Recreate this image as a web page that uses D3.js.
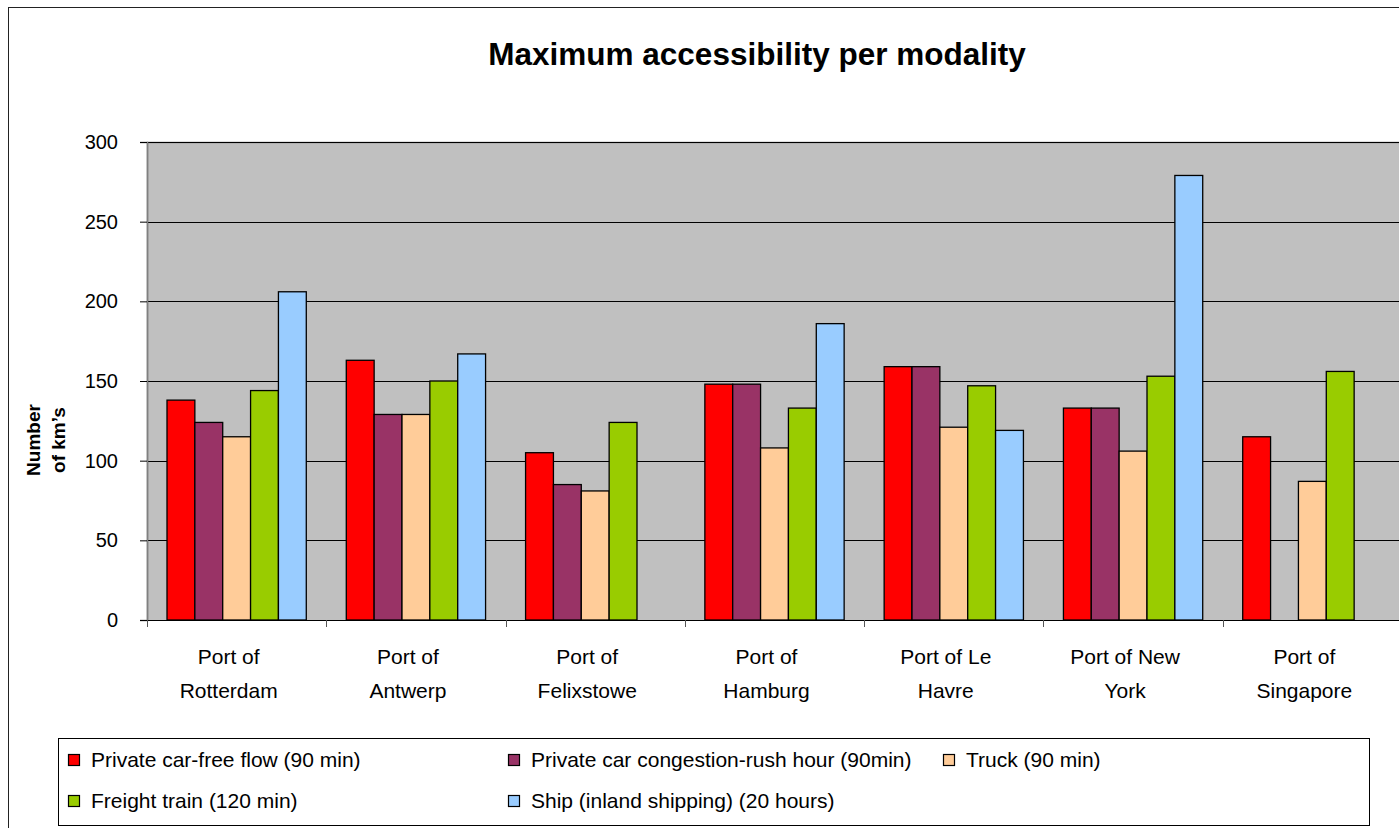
<!DOCTYPE html>
<html lang="en">
<head>
<meta charset="utf-8">
<title>Maximum accessibility per modality</title>
<script src="https://cdn.jsdelivr.net/npm/d3@7"></script>
<style>
  body { margin: 0; background: #fff; }
  text { font-family: "Liberation Sans", Arial, sans-serif; }
</style>
</head>
<body>
<script>
// categories and series
var ports = [["Port of", "Rotterdam"], ["Port of", "Antwerp"], ["Port of", "Felixstowe"],
             ["Port of", "Hamburg"], ["Port of Le", "Havre"], ["Port of New", "York"],
             ["Port of", "Singapore"]];
var seriesNames = ["Private car-free flow (90 min)", "Private car congestion-rush hour (90min)",
                   "Truck (90 min)", "Freight train (120 min)", "Ship (inland shipping) (20 hours)"];
var carFree    = [138, 163, 105, 148, 159, 133, 115];
var carRush    = [124, 129, 85, 148, 159, 133, null];
var truck      = [115, 129, 81, 108, 121, 106, 87];
var train      = [144, 150, 124, 133, 147, 153, 156];
var ship       = [206, 167, null, 186, 119, 279, null];
var yTicks     = [0, 50, 100, 150, 200, 250, 300];
var colors     = ["#FF0000", "#993366", "#FFCC99", "#99CC00", "#99CCFF"];

var seriesValues = [carFree, carRush, truck, train, ship];

var w = 1399, h = 828;
var plotLeft = 147, plotTop = 142, plotBottom = 620, plotRight = 1402;

var svg = d3.select("body").append("svg")
    .attr("width", w).attr("height", h);

// outer frame (runs off the right and bottom of the picture)
svg.append("rect")
   .attr("x", 8.5).attr("y", 7.5)
   .attr("width", 1420).attr("height", 840)
   .attr("fill", "none").attr("stroke", "#222").attr("stroke-width", 1);

// title
svg.append("text")
   .attr("x", 757).attr("y", 65)
   .attr("text-anchor", "middle")
   .attr("font-size", "31.5px").attr("font-weight", "bold")
   .text("Maximum accessibility per modality");

// scales
var x0 = d3.scaleBand()
    .domain(d3.range(ports.length))
    .range([plotLeft, plotRight])
    .paddingInner(0).paddingOuter(0);
var x1 = d3.scaleBand()
    .domain(d3.range(seriesNames.length))
    .range([20, x0.bandwidth() - 20])
    .padding(0);
var y = d3.scaleLinear()
    .domain([0, 300])
    .range([plotBottom, plotTop]);

// plot background
svg.append("rect")
   .attr("x", plotLeft).attr("y", plotTop)
   .attr("width", plotRight - plotLeft).attr("height", plotBottom - plotTop)
   .attr("fill", "#C0C0C0");
svg.append("path")
   .attr("d", "M" + (plotLeft + 0.5) + "," + plotBottom + "V" + (plotTop + 0.5) + "H" + w)
   .attr("fill", "none").attr("stroke", "#808080").attr("stroke-width", 1.5);

// gridlines
svg.selectAll("line.grid")
   .data(yTicks.filter(function(d){ return d > 0; }))
   .enter().append("line")
   .attr("class", "grid")
   .attr("x1", plotLeft).attr("x2", plotRight)
   .attr("y1", function(d){ return Math.round(y(d)) + 0.5; })
   .attr("y2", function(d){ return Math.round(y(d)) + 0.5; })
   .attr("stroke", "#000").attr("stroke-width", 1);

// bars
var groups = svg.selectAll("g.port")
    .data(ports)
    .enter().append("g")
    .attr("class", "port")
    .attr("transform", function(d, i){ return "translate(" + x0(i) + ",0)"; });

groups.selectAll("rect")
    .data(function(d, i){
        return seriesValues.map(function(s, k){ return {k: k, v: s[i]}; })
                           .filter(function(e){ return e.v != null; });
    })
    .enter().append("rect")
    .attr("x", function(d){ return x1(d.k); })
    .attr("y", function(d){ return y(d.v); })
    .attr("width", x1.bandwidth())
    .attr("height", function(d){ return plotBottom - y(d.v); })
    .attr("fill", function(d){ return colors[d.k]; })
    .attr("stroke", "#000").attr("stroke-width", 1.3);

// y axis
var yAxis = d3.axisLeft(y).tickValues(yTicks).tickSize(7).tickPadding(22);
var gy = svg.append("g")
    .attr("transform", "translate(" + plotLeft + ",0)")
    .call(yAxis);
gy.select(".domain").attr("stroke", "#808080").attr("stroke-width", 1.5);
gy.selectAll(".tick line").attr("stroke", "#000");
gy.selectAll(".tick text")
  .attr("font-size", "20px").attr("font-family", "Liberation Sans, Arial, sans-serif")
  .attr("fill", "#000");

// x axis
var gx = svg.append("g")
    .attr("transform", "translate(0," + plotBottom + ")");
gx.append("line")
  .attr("x1", plotLeft).attr("x2", plotRight)
  .attr("y1", 0.5).attr("y2", 0.5)
  .attr("stroke", "#000");
gx.selectAll("line.tick")
  .data(d3.range(ports.length + 1))
  .enter().append("line")
  .attr("class", "tick")
  .attr("x1", function(d){ return Math.round(plotLeft + d * x0.step()) + 0.5; })
  .attr("x2", function(d){ return Math.round(plotLeft + d * x0.step()) + 0.5; })
  .attr("y1", 0).attr("y2", 7)
  .attr("stroke", "#555");
var labels = gx.selectAll("text.cat")
  .data(ports)
  .enter().append("text")
  .attr("class", "cat")
  .attr("text-anchor", "middle")
  .attr("font-size", "21px")
  .attr("transform", function(d, i){ return "translate(" + (x0(i) + x0.bandwidth() / 2 - 8) + ",0)"; });
labels.append("tspan").attr("x", 0).attr("y", 44).text(function(d){ return d[0]; });
labels.append("tspan").attr("x", 0).attr("y", 78).text(function(d){ return d[1]; });

// y axis title
var yt = svg.append("text")
   .attr("transform", "translate(0,440) rotate(-90)")
   .attr("text-anchor", "middle")
   .attr("font-size", "19px").attr("font-weight", "bold");
yt.append("tspan").attr("x", 0).attr("y", 40).text("Number");
yt.append("tspan").attr("x", 0).attr("y", 65).text("of km\u2019s");

// legend
svg.append("rect")
   .attr("x", 58.5).attr("y", 738.5)
   .attr("width", 1311).attr("height", 87)
   .attr("fill", "#fff").attr("stroke", "#000").attr("stroke-width", 1);
var legendPos = [[68, 760], [508, 760], [943, 760], [68, 801], [508, 801]];
var leg = svg.selectAll("g.legend")
    .data(seriesNames)
    .enter().append("g")
    .attr("class", "legend")
    .attr("transform", function(d, i){ return "translate(" + legendPos[i][0] + "," + legendPos[i][1] + ")"; });
leg.append("rect")
   .attr("x", 0.5).attr("y", -5.5)
   .attr("width", 11).attr("height", 11)
   .attr("fill", function(d, i){ return colors[i]; })
   .attr("stroke", "#000").attr("stroke-width", 1.2);
leg.append("text")
   .attr("x", 23).attr("y", 7)
   .attr("font-size", "21px")
   .text(function(d){ return d; });
</script>
</body>
</html>
